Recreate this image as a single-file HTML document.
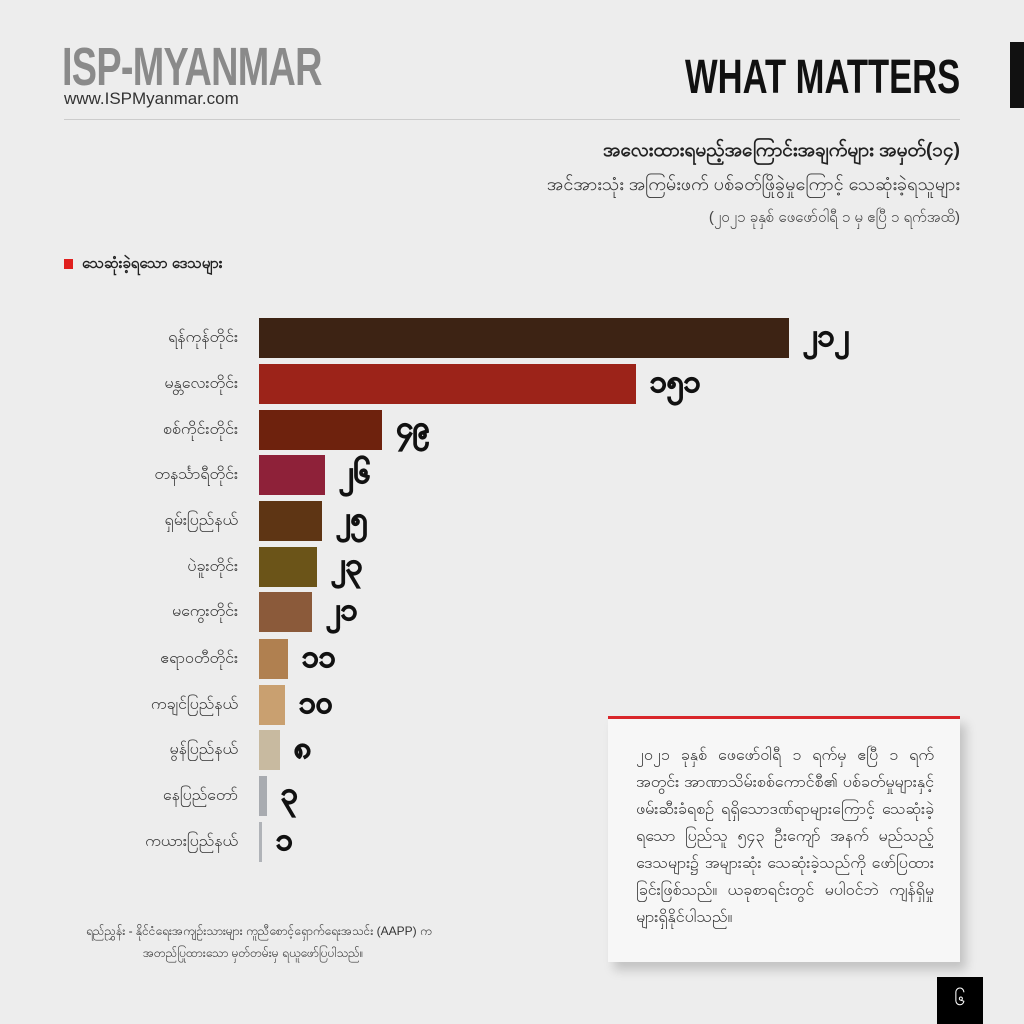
<!DOCTYPE html><html><head><meta charset="utf-8"><style>
body{margin:0;width:1024px;height:1024px;background:#ededed;position:relative;overflow:hidden;font-family:"Liberation Sans","Noto Sans CJK SC",sans-serif}
.a{position:absolute;white-space:nowrap}
.lab{position:absolute;right:786px;font-size:16px;color:#333;transform:translateY(-50%)}
.bar{position:absolute;left:259px;height:40px;transform:translateY(-50%)}
.val{position:absolute;font-size:30px;font-weight:bold;color:#111;transform:translateY(-50%);-webkit-text-stroke:1.2px #111}
</style></head><body>
<div class="a" style="left:62px;top:36px;font-size:54px;font-weight:bold;color:#8a8a8a;letter-spacing:-1px;transform:scaleX(0.7);transform-origin:left">ISP-MYANMAR</div>
<div class="a" style="left:64px;top:89px;font-size:17px;color:#333">www.ISPMyanmar.com</div>
<div class="a" style="right:64px;top:50px;font-size:48px;font-weight:bold;color:#111;transform:scaleX(0.72);transform-origin:right">WHAT MATTERS</div>
<div class="a" style="left:1010px;top:42px;width:14px;height:66px;background:#111"></div>
<div class="a" style="left:64px;top:119px;width:896px;height:1px;background:#ccc"></div>
<div class="a" style="right:64px;top:138px;font-size:19px;font-weight:bold;color:#222">အလေးထားရမည့်အကြောင်းအချက်များ အမှတ်(၁၄)</div>
<div class="a" style="right:64px;top:172px;font-size:18px;color:#333">အင်အားသုံး အကြမ်းဖက် ပစ်ခတ်ဖြိုခွဲမှုကြောင့် သေဆုံးခဲ့ရသူများ</div>
<div class="a" style="right:64px;top:208px;font-size:15px;color:#444">(၂၀၂၁ ခုနှစ် ဖေဖော်ဝါရီ ၁ မှ ဧပြီ ၁ ရက်အထိ)</div>
<div class="a" style="left:64px;top:259px;width:9px;height:10px;background:#e0201e"></div>
<div class="a" style="left:82px;top:254px;font-size:15px;font-weight:bold;color:#222">သေဆုံးခဲ့ရသော ဒေသများ</div>

<div class="lab" style="top:338px">ရန်ကုန်တိုင်း</div><div class="bar" style="top:338px;width:530px;background:#3d2314"></div><div class="val" style="top:338px;left:803px">၂၁၂</div>
<div class="lab" style="top:384px">မန္တလေးတိုင်း</div><div class="bar" style="top:384px;width:377px;background:#9c2319"></div><div class="val" style="top:384px;left:650px">၁၅၁</div>
<div class="lab" style="top:430px">စစ်ကိုင်းတိုင်း</div><div class="bar" style="top:430px;width:123px;background:#6e220d"></div><div class="val" style="top:430px;left:396px">၄၉</div>
<div class="lab" style="top:475px">တနင်္သာရီတိုင်း</div><div class="bar" style="top:475px;width:66px;background:#8e2139"></div><div class="val" style="top:475px;left:339px">၂၆</div>
<div class="lab" style="top:521px">ရှမ်းပြည်နယ်</div><div class="bar" style="top:521px;width:63px;background:#5e3514"></div><div class="val" style="top:521px;left:336px">၂၅</div>
<div class="lab" style="top:567px">ပဲခူးတိုင်း</div><div class="bar" style="top:567px;width:58px;background:#6b5418"></div><div class="val" style="top:567px;left:331px">၂၃</div>
<div class="lab" style="top:612px">မကွေးတိုင်း</div><div class="bar" style="top:612px;width:53px;background:#8b5a3a"></div><div class="val" style="top:612px;left:326px">၂၁</div>
<div class="lab" style="top:659px">ဧရာဝတီတိုင်း</div><div class="bar" style="top:659px;width:29px;background:#b08050"></div><div class="val" style="top:659px;left:302px">၁၁</div>
<div class="lab" style="top:705px">ကချင်ပြည်နယ်</div><div class="bar" style="top:705px;width:26px;background:#c9a070"></div><div class="val" style="top:705px;left:299px">၁၀</div>
<div class="lab" style="top:750px">မွန်ပြည်နယ်</div><div class="bar" style="top:750px;width:21px;background:#c8baa0"></div><div class="val" style="top:750px;left:294px">၈</div>
<div class="lab" style="top:796px">နေပြည်တော်</div><div class="bar" style="top:796px;width:8px;background:#a8abb0"></div><div class="val" style="top:796px;left:281px">၃</div>
<div class="lab" style="top:842px">ကယားပြည်နယ်</div><div class="bar" style="top:842px;width:3px;background:#b0b3b8"></div><div class="val" style="top:842px;left:276px">၁</div>

<div class="a" style="left:86px;top:920px;font-size:12px;color:#333;line-height:22px">ရည်ညွှန်း - နိုင်ငံရေးအကျဉ်းသားများ ကူညီစောင့်ရှောက်ရေးအသင်း (AAPP) က<br><span style="padding-left:57px">အတည်ပြုထားသော မှတ်တမ်းမှ ရယူဖော်ပြပါသည်။</span></div>

<div class="a" style="left:608px;top:716px;width:352px;height:243px;background:#f7f7f7;border-top:3px solid #d9262a;box-shadow:6px 8px 10px rgba(0,0,0,0.18)"></div>
<div class="a" style="left:636px;top:742px;width:298px;white-space:normal;font-size:16px;line-height:27px;color:#333;text-align:justify">၂၀၂၁ ခုနှစ် ဖေဖော်ဝါရီ ၁ ရက်မှ ဧပြီ ၁ ရက် အတွင်း အာဏာသိမ်းစစ်ကောင်စီ၏ ပစ်ခတ်မှုများနှင့် ဖမ်းဆီးခံရစဉ် ရရှိသောဒဏ်ရာများကြောင့် သေဆုံးခဲ့ရသော ပြည်သူ ၅၄၃ ဦးကျော် အနက် မည်သည့်ဒေသများ၌ အများဆုံး သေဆုံးခဲ့သည်ကို ဖော်ပြထားခြင်းဖြစ်သည်။ ယခုစာရင်းတွင် မပါဝင်ဘဲ ကျန်ရှိမှုများရှိနိုင်ပါသည်။</div>
<div class="a" style="left:937px;top:977px;width:46px;height:47px;background:#000;color:#fff;font-size:20px;text-align:center;line-height:44px">၆</div>
</body></html>
